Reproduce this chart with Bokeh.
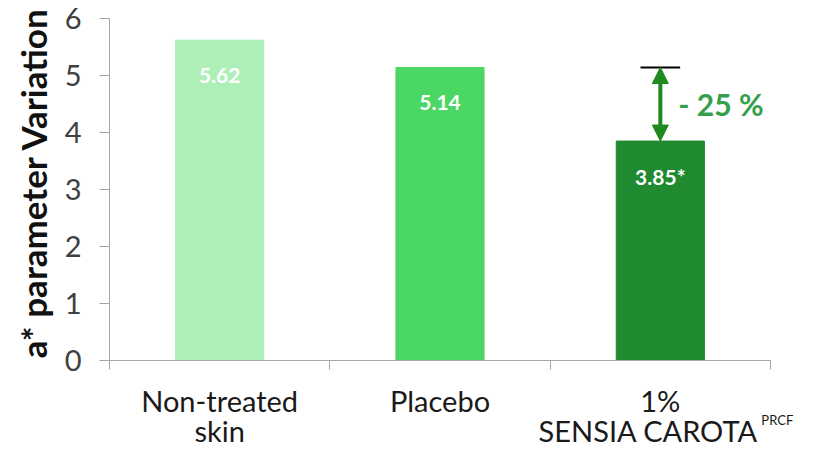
import math
from bokeh.plotting import figure
from bokeh.models import Range1d, FixedTicker, Label, Arrow, NormalHead, ColumnDataSource, LinearAxis
from bokeh.embed import file_html
from bokeh.resources import INLINE
from bokeh.core.properties import value

# ---- data ----
categories = ["Non-treated skin", "Placebo", "1% SENSIA CAROTA PRCF"]
values = [5.62, 5.14, 3.85]
value_labels = ["5.62", "5.14", "3.85*"]
bar_colors = ["#aeefb8", "#4bd763", "#1f8a2f"]
y_ticks = [0, 1, 2, 3, 4, 5, 6]
y_title = "a* parameter  Variation"
reduction_label = "- 25 %"

FONT = "Lato"
W, H = 808, 448
# layout: plotting area (0..3 x 0..6) placed at pixels x 109..770, y 18..360
X0_PX, X1_PX, Y6_PX, Y0_PX = 109, 770, 18, 360
px_x = (X1_PX - X0_PX) / 3.0
px_y = (Y0_PX - Y6_PX) / 6.0
x_lo, x_hi = -X0_PX / px_x, 3 + (W - X1_PX) / px_x
y_lo, y_hi = -(H - Y0_PX) / px_y, 6 + Y6_PX / px_y

xpos = [i + 0.5 for i in range(len(categories))]

p = figure(width=W, height=H, output_backend="svg", toolbar_location=None,
           x_range=Range1d(x_lo, x_hi), y_range=Range1d(y_lo, y_hi),
           x_axis_location=None, y_axis_location=None,
           min_border_left=0, min_border_right=0, min_border_top=0, min_border_bottom=0)
p.outline_line_color = None
p.xgrid.visible = False
p.ygrid.visible = False

src = ColumnDataSource(dict(x=xpos, top=values, color=bar_colors, lab=value_labels))
p.vbar(x="x", top="top", bottom=0, width=0.4, color="color", source=src)
p.text(x="x", y="top", text="lab", source=src, y_offset=35, text_align="center",
       text_baseline="middle", text_color="white", text_font=value(FONT),
       text_font_style="bold", text_font_size="21px")

# y axis at x = 0
ya = LinearAxis(fixed_location=0, ticker=FixedTicker(ticks=y_ticks), bounds=(0, 6))
ya.axis_line_color = "#a6a6a6"
ya.major_tick_line_color = "#a6a6a6"
ya.major_tick_out = 10
ya.major_tick_in = 0
ya.minor_tick_line_color = None
ya.major_label_text_font = FONT
ya.major_label_text_font_size = "29px"
ya.major_label_text_color = "#404040"
ya.major_label_standoff = 18
p.add_layout(ya, "left")

# y axis title
p.add_layout(Label(x=(32 - X0_PX) / px_x, y=(Y0_PX - 178) / px_y, text=y_title, angle=math.pi / 2,
                   text_align="center", text_baseline="middle", text_font=FONT,
                   text_font_style="bold", text_font_size="35px", text_color="#111111"))

# x axis at y = 0
xa = LinearAxis(fixed_location=0, ticker=FixedTicker(ticks=[0, 1, 2, 3]), bounds=(0, 3))
xa.axis_line_color = "#a6a6a6"
xa.major_tick_line_color = "#a6a6a6"
xa.major_tick_out = 9
xa.major_tick_in = 0
xa.minor_tick_line_color = None
xa.major_label_text_font_size = "0px"
p.add_layout(xa, "below")

# category labels
lines1 = ["Non-treated", "Placebo", "1%"]
lines2 = ["skin", "", "SENSIA CAROTA"]
for i, (a, b) in enumerate(zip(lines1, lines2)):
    p.add_layout(Label(x=xpos[i], y=-0.71, text=a, text_align="center",
                       text_baseline="middle", text_font=FONT, text_font_size="29px",
                       text_color="#1a1a1a"))
    if b:
        off = -12 if i == 2 else 0
        p.add_layout(Label(x=xpos[i], y=-1.22, x_offset=off, text=b,
                           text_align="center", text_baseline="middle", text_font=FONT,
                           text_font_size="29px", text_color="#1a1a1a"))
p.add_layout(Label(x=xpos[2], y=-1.04, x_offset=101, text="PRCF",
                   text_align="left", text_baseline="middle", text_font=FONT,
                   text_font_size="13px", text_color="#1a1a1a"))

# reduction annotation
ref_val = values[1]
p.segment(x0=[xpos[2] - 0.09], x1=[xpos[2] + 0.09], y0=[ref_val], y1=[ref_val],
          line_color="black", line_width=2)
p.add_layout(Arrow(x_start=xpos[2], y_start=ref_val, x_end=xpos[2], y_end=values[2],
                   line_color="#1e8a1e", line_width=4,
                   start=NormalHead(size=16, fill_color="#1e8a1e", line_color="#1e8a1e"),
                   end=NormalHead(size=16, fill_color="#1e8a1e", line_color="#1e8a1e")))
p.add_layout(Label(x=xpos[2], y=(ref_val + values[2]) / 2, x_offset=18, text=reduction_label,
                   text_align="left", text_baseline="middle", text_font=FONT,
                   text_font_style="bold", text_font_size="30px", text_color="#35a04a"))

open("out.html", "w").write(file_html(p, INLINE))
